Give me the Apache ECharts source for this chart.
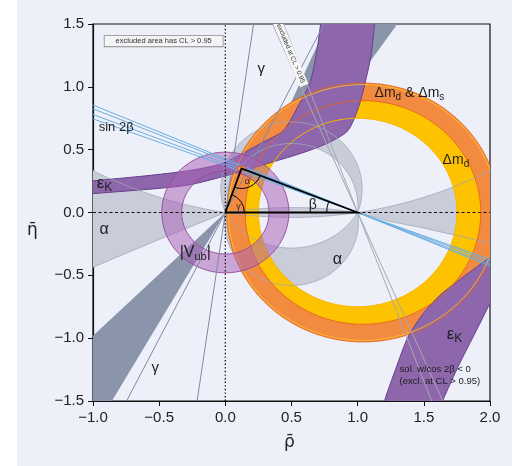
<!DOCTYPE html>
<html>
<head>
<meta charset="utf-8">
<script src="https://cdn.jsdelivr.net/npm/echarts@6/dist/echarts.min.js"></script>
<style>
html,body{margin:0;padding:0;background:#ffffff;}
#chart{width:512px;height:466px;}
</style>
</head>
<body>
<div id="chart"></div>
<script>
// ---------------- values ----------------
const xTicks = [-1.0, -0.5, 0.0, 0.5, 1.0, 1.5, 2.0];
const yTicks = [-1.5, -1.0, -0.5, 0.0, 0.5, 1.0, 1.5];
const apexPoint = [0.122, 0.350];
const baseLeft = [0.0, 0.0];
const baseRight = [1.0, 0.0];
const apexFitRadii = [0.032, 0.020];
const dmdCenter = [1.00, 0.00];
const dmdRadii = [0.75, 0.94];
const dmsCenter = [1.04, 0.00];
const dmsRadii = [0.89, 1.03];
const vubCenter = [0.00, 0.00];
const vubRadii = [0.33, 0.48];
const sin2bSlopes = [0.4275, 0.4125, 0.390, 0.3725];
const cos2bNegSlopes = [2.68, 2.33];
const gammaLineSlopes = [2.01, 7.03];
const gammaWedgeSlopes = [0.98, 1.75];
const gammaBandUpper = [[0.795, 1.56], [1.341, 1.56], [0.831, 0.82], [0.472, 0.82]];
const alphaArcCentre = 3.161;
const alphaLowerLeft = [[-1.10, -0.48], [-1.00, -0.435], [-0.52, -0.223], [0.00, 0.00]];
const alphaLowerRight = [[1.00, 0.00], [1.24, -0.07], [1.47, -0.117], [1.75, -0.183], [2.10, -0.27]];
const alphaUpperArcs = [0.047, 0.187];
const alphaLowerArcs = [0.30, -0.075];
const epsUpperTop = [[-1.10, 0.242], [-1.00, 0.252], [-0.60, 0.292], [-0.27, 0.334], [-0.02, 0.392], [0.26, 0.545], [0.44, 0.655], [0.56, 0.865], [0.637, 1.024], [0.688, 1.262], [0.72, 1.50], [0.735, 1.62]];
const epsUpperBottom = [[1.14, 1.62], [1.128, 1.50], [1.103, 1.262], [1.066, 1.076], [1.015, 0.865], [0.927, 0.652], [0.763, 0.547], [0.561, 0.467], [0.309, 0.387], [0.057, 0.308], [-0.30, 0.215], [-1.00, 0.150], [-1.10, 0.142]];
const epsLowerLeft = [[1.18, -1.62], [1.204, -1.496], [1.292, -1.231], [1.38, -0.992], [1.494, -0.806], [1.62, -0.66], [1.796, -0.515], [1.998, -0.356], [2.10, -0.276]];
const epsLowerRight = [[2.10, -0.51], [1.998, -0.726], [1.897, -0.939], [1.771, -1.201], [1.643, -1.496], [1.60, -1.62]];
const noteBoxCentre = [-0.466, 1.364];
const rotatedNoteCentre = [0.494, 1.265];

const textLabels = [
  ['{m|\u0394m}{s|d}{m| & \u0394m}{s|s}', [1.128, 0.951], 14],
  ['{m|\u0394m}{s|d}', [1.642, 0.418], 14],
  ['{m|sin 2\u03b2}', [-0.957, 0.676], 13],
  ['{m|\u03b5}{s|K}', [-0.972, 0.231], 17],
  ['{m|\u03b1}', [-0.95, -0.135], 16],
  ['{m||V}{s|ub}{m||}', [-0.345, -0.318], 16],
  ['{m|\u03b1}', [0.811, -0.374], 16],
  ['{m|\u03b2}', [0.63, 0.056], 14],
  ['{m|\u03b3}', [0.244, 1.146], 15],
  ['{m|\u03b3}', [-0.557, -1.233], 15],
  ['{m|\u03b5}{s|K}', [1.673, -0.971], 17],
  ['{m|sol. w/cos 2\u03b2 < 0}', [1.317, -1.249], 9.5],
  ['{m|(excl. at CL > 0.95)}', [1.317, -1.345], 9.5],
  ['{m|\u03b3}', [0.083, 0.044], 9],
  ['{m|\u03b1}', [0.146, 0.243], 9]
];

// ---------------- helpers ----------------
const FONT = '"Liberation Sans", Arial, sans-serif';
const NAME_FONT = '"DejaVu Sans", sans-serif';
const TAU = Math.PI * 2;
function circlePts(c, r, a0, a1, n) {
  const out = [];
  for (let i = 0; i <= n; i++) {
    const t = a0 + (a1 - a0) * i / n;
    out.push([c[0] + r * Math.cos(t), c[1] + r * Math.sin(t)]);
  }
  return out;
}
function ellipsePts(c, rx, ry, n) {
  const out = [];
  for (let i = 0; i < n; i++) {
    const t = TAU * i / n;
    out.push([c[0] + rx * Math.cos(t), c[1] + ry * Math.sin(t)]);
  }
  return out;
}
function baseArc(cy, upper, n) {
  const r = Math.sqrt(0.25 + cy * cy);
  const t1 = Math.atan2(-cy, 0.5), t0 = Math.atan2(-cy, -0.5);
  let a0, a1;
  if (upper) { a0 = t1; a1 = t0; while (a1 < a0) a1 += TAU; }
  else { a0 = t0; a1 = t1; while (a1 < a0) a1 += TAU; }
  return circlePts([0.5, cy], r, a0, a1, n);
}
function bigArc(cy, rhoFrom, rhoTo, n, sign) {
  const r2 = 0.25 + cy * cy, out = [];
  for (let i = 0; i <= n; i++) {
    const x = rhoFrom + (rhoTo - rhoFrom) * i / n;
    const s = Math.sqrt(Math.max(0, r2 - (x - 0.5) * (x - 0.5)));
    out.push([x, sign * (cy - s)]);
  }
  return out;
}
function pix(api, pts) { return pts.map(p => api.coord(p)); }
function pathOf(p, close) {
  return p.map((q, i) => (i ? 'L' : 'M') + q[0].toFixed(2) + ' ' + q[1].toFixed(2)).join(' ') + (close ? ' Z' : '');
}
function ringPathData(api, c, r0, r1) {
  const outer = pix(api, circlePts(c, r1, 0, TAU, 200));
  const inner = pix(api, circlePts(c, r0, TAU, 0, 200));
  return pathOf(outer, true) + ' ' + pathOf(inner, true);
}
function lineThrough(p0, slope, x0, x1) { return [[x0, p0[1] + slope * (x0 - p0[0])], [x1, p0[1] + slope * (x1 - p0[0])]]; }
function fmtTick(v) { return (v < -1e-9 ? '\u2212' : '') + Math.abs(v).toFixed(1); }

let zc = 1;
function layer(render) {
  return {
    type: 'custom', coordinateSystem: 'cartesian2d', clip: true, silent: true,
    animation: false, z: zc++, data: [[0, 0]],
    renderItem: (params, api) => ({ type: 'group', children: render(api, params) })
  };
}
const polyEl = (api, pts, style, smooth) => ({ type: 'polygon', shape: { points: pix(api, pts), smooth: smooth || 0 }, style: style });
const lineEl = (api, pts, style) => ({ type: 'polyline', shape: { points: pix(api, pts) }, style: Object.assign({ fill: null }, style) });

const BG = '#edf0f8';
const A_FILL = '#c9cdda', A_LINE = '#9ea7ba';
const G_FILL = '#8a95ab', G_LINE = '#7d8ba6';
const YEL = '#fec300', ORA = '#f28b40', ORA_EDGE = '#e5631f';
const PUR = '#8e66ab', PUR_EDGE = '#6a3f8d';
const BLUE = '#6aaee2', GREY_LINE = '#a6a8b0';

const series = [];

function alphaShapes() {
  const left = bigArc(alphaArcCentre, 0, -1.1, 60, 1).concat(alphaLowerLeft);
  const right = bigArc(alphaArcCentre, 1, 2.1, 60, 1).concat(alphaLowerRight.slice().reverse());
  const lens = bigArc(alphaArcCentre, 0, 1, 60, 1).concat(bigArc(alphaArcCentre, 1, 0, 60, -1));
  const up = baseArc(alphaUpperArcs[1], true, 120).concat(baseArc(alphaUpperArcs[0], true, 120).reverse());
  const lo = baseArc(alphaLowerArcs[1], false, 120).concat(baseArc(alphaLowerArcs[0], false, 120).reverse());
  return { left, right, lens, up, lo };
}
series.push(layer(api => {
  const s = alphaShapes();
  const st = { fill: A_FILL };
  return [polyEl(api, s.left, st), polyEl(api, s.right, st), polyEl(api, s.lens, st), polyEl(api, s.up, st), polyEl(api, s.lo, st)];
}));
series.push(layer(api => {
  const w = [[0, 0], [-3, -3 * gammaWedgeSlopes[0]], [-3, -3 * gammaWedgeSlopes[1]]];
  return [polyEl(api, w, { fill: G_FILL }), polyEl(api, gammaBandUpper, { fill: G_FILL })];
}));
series.push(layer(api => [{ type: 'path', shape: { pathData: ringPathData(api, dmdCenter, dmdRadii[0], dmdRadii[1]) }, style: { fill: YEL } }]));
series.push(layer(api => [{ type: 'path', shape: { pathData: ringPathData(api, dmsCenter, dmsRadii[0], dmsRadii[1]) }, style: { fill: ORA } }]));
series.push(layer(api => [
  polyEl(api, epsUpperTop.concat(epsUpperBottom), { fill: PUR, stroke: PUR_EDGE, lineWidth: 1 }, 0.25),
  polyEl(api, epsLowerLeft.concat(epsLowerRight), { fill: PUR, stroke: PUR_EDGE, lineWidth: 1 }, 0.25)
]));
series.push(layer(api => {
  const s = alphaShapes();
  const st = { stroke: A_LINE, lineWidth: 0.8 };
  const els = [];
  [s.left, s.right, s.lens, s.up, s.lo].forEach(p => els.push(lineEl(api, p.concat([p[0]]), st)));
  els.push(lineEl(api, circlePts(dmdCenter, dmdRadii[0], 0, TAU, 200), { stroke: '#f7b500', lineWidth: 1 }));
  els.push(lineEl(api, circlePts(dmsCenter, dmsRadii[0], 0, TAU, 200), { stroke: ORA_EDGE, lineWidth: 0.9 }));
  els.push(lineEl(api, circlePts(dmsCenter, dmsRadii[1], 0, TAU, 200), { stroke: ORA_EDGE, lineWidth: 0.9 }));
  els.push(lineEl(api, circlePts(dmsCenter, dmsRadii[1] - 0.012, 0, TAU, 200), { stroke: '#ffc72a', lineWidth: 0.8 }));
  return els;
}));
series.push(layer(api => [{ type: 'path', shape: { pathData: ringPathData(api, vubCenter, vubRadii[0], vubRadii[1]) }, style: { fill: 'rgba(168,98,182,0.52)', stroke: '#9a4b9f', lineWidth: 1 } }]));
series.push(layer(api => {
  const els = [];
  gammaLineSlopes.forEach(k => els.push(lineEl(api, lineThrough(baseLeft, k, -1.2, 1.2), { stroke: G_LINE, lineWidth: 1 })));
  cos2bNegSlopes.forEach(k => els.push(lineEl(api, lineThrough(baseRight, -k, 0, 2), { stroke: GREY_LINE, lineWidth: 1 })));
  sin2bSlopes.forEach(k => els.push(lineEl(api, lineThrough(baseRight, -k, -1.1, 2.1), { stroke: BLUE, lineWidth: 1 })));
  return els;
}));
series.push(layer(api => [
  lineEl(api, [[-1, 0], [2, 0]], { stroke: '#111', lineWidth: 1.1, lineDash: [3, 2.5] }),
  lineEl(api, [[0, -1.5], [0, 1.5]], { stroke: '#111', lineWidth: 1.3, lineDash: [1.4, 2.2] })
]));
series.push(layer(api => {
  const A = api.coord(apexPoint), O = api.coord(baseLeft), B = api.coord(baseRight);
  const ang = (p, q) => Math.atan2(q[1] - p[1], q[0] - p[0]);
  const norm = (a, ref) => { while (a < ref) a += TAU; return a; };
  const els = [];
  els.push(polyEl(api, ellipsePts(apexPoint, apexFitRadii[0], apexFitRadii[1], 40), { fill: '#f6a04a', stroke: '#e0322a', lineWidth: 1 }));
  els.push({ type: 'polyline', shape: { points: [O, B, A, O] }, style: { stroke: '#000', lineWidth: 1.8, fill: null } });
  const gA = ang(O, A);
  els.push({ type: 'arc', shape: { cx: O[0], cy: O[1], r: 19, startAngle: gA, endAngle: 0, clockwise: true }, style: { stroke: '#000', fill: null, lineWidth: 1 } });
  const bA = norm(ang(B, A), Math.PI);
  els.push({ type: 'arc', shape: { cx: B[0], cy: B[1], r: 31, startAngle: Math.PI, endAngle: bA, clockwise: true }, style: { stroke: '#000', fill: null, lineWidth: 1 } });
  const a1 = ang(A, B), a2 = norm(ang(A, O), a1);
  els.push({ type: 'arc', shape: { cx: A[0], cy: A[1], r: 20, startAngle: a1, endAngle: a2, clockwise: true }, style: { stroke: '#000', fill: null, lineWidth: 1 } });
  return els;
}));
series.push(layer(api => {
  const els = [];
  textLabels.forEach(l => {
    const p = api.coord(l[1]);
    const fs = l[2];
    els.push({
      type: 'text', x: p[0], y: p[1],
      style: {
        text: l[0], align: 'left', verticalAlign: 'middle',
        rich: {
          m: { fontSize: fs, fontFamily: FONT, fill: fs < 10 && fs > 8.5 && l[0].length < 9 ? '#3b2626' : '#1e1e1e', lineHeight: fs + 4 },
          s: { fontSize: Math.round(fs * 0.68), fontFamily: FONT, fill: '#1e1e1e', lineHeight: 5, verticalAlign: 'bottom' }
        }
      }
    });
  });
  const nb = api.coord(noteBoxCentre);
  els.push({ type: 'text', x: nb[0], y: nb[1], style: { text: 'excluded area has CL > 0.95', fontSize: 7.5, fontFamily: FONT, fill: '#333', align: 'center', verticalAlign: 'middle', backgroundColor: '#f4f4f6', borderColor: '#8a8a8a', borderWidth: 0.8, padding: [1.5, 11, 1, 11] } });
  const rc = api.coord(rotatedNoteCentre);
  const mid = (cos2bNegSlopes[0] + cos2bNegSlopes[1]) / 2;
  const q0 = api.coord([0.4, mid * 0.6]), q1 = api.coord([0.6, mid * 0.4]);
  const rot = -Math.atan2(q1[1] - q0[1], q1[0] - q0[0]);
  els.push({ type: 'text', x: rc[0], y: rc[1], rotation: rot, style: { text: 'excluded at CL > 0.95', fontSize: 6.5, fontFamily: FONT, fill: '#333', align: 'center', verticalAlign: 'middle', backgroundColor: '#f7f7f9', padding: [1, 3, 1, 3] } });
  return els;
}));

const option = {
  backgroundColor: BG,
  animation: false,
  grid: { left: 93, right: 22, top: 24, bottom: 65, show: true, borderColor: '#111', borderWidth: 1.2, backgroundColor: 'transparent' },
  xAxis: {
    type: 'value', min: xTicks[0], max: xTicks[xTicks.length - 1], interval: xTicks[1] - xTicks[0],
    axisLine: { show: true, onZero: false, lineStyle: { color: '#111', width: 1.2 } },
    axisTick: { show: true, length: 5, lineStyle: { color: '#111', width: 1 } },
    axisLabel: { fontSize: 15, color: '#222', fontFamily: FONT, margin: 9, formatter: fmtTick },
    splitLine: { show: false }
  },
  yAxis: {
    type: 'value', min: yTicks[0], max: yTicks[yTicks.length - 1], interval: yTicks[1] - yTicks[0],
    axisLine: { show: true, onZero: false, lineStyle: { color: '#111', width: 1.2 } },
    axisTick: { show: true, length: 5, lineStyle: { color: '#111', width: 1 } },
    axisLabel: { fontSize: 15, color: '#222', fontFamily: FONT, margin: 9, formatter: fmtTick },
    splitLine: { show: false }
  },
  graphic: [
    { type: 'rect', left: 0, top: 0, shape: { width: 17, height: 466 }, style: { fill: '#ffffff' }, z: -1 },
    { type: 'text', left: 27, top: 222, style: { text: '\u03b7\u0304', fill: '#222', font: '17px ' + NAME_FONT } },
    { type: 'text', left: 284, top: 434, style: { text: '\u03c1\u0304', fill: '#222', font: '17px ' + NAME_FONT } }
  ],
  series: series
};
const chart = echarts.init(document.getElementById('chart'), null, { renderer: 'canvas' });
chart.setOption(option);
</script>
</body>
</html>
